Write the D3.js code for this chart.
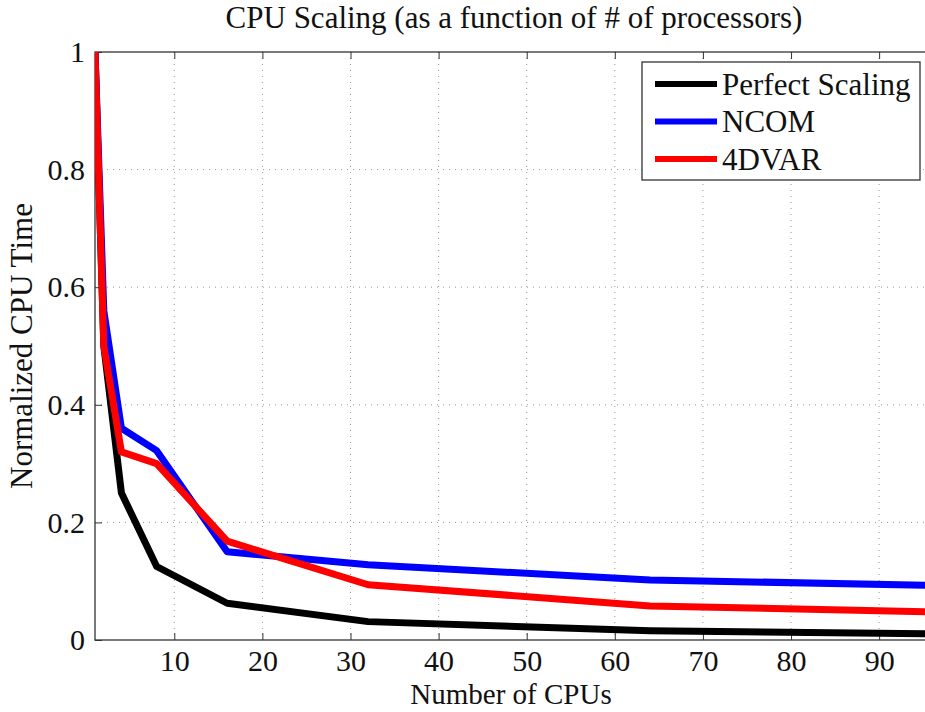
<!DOCTYPE html>
<html><head><meta charset="utf-8">
<script src="https://cdn.jsdelivr.net/npm/d3@7"></script>
<style>body{margin:0;background:#fff;overflow:hidden}svg{display:block}</style>
</head><body>
<script>
const cpus = [1, 2, 4, 8, 16, 32, 64, 96];
const perfect = [1, 0.5, 0.25, 0.125, 0.0625, 0.03125, 0.015625, 0.0104];
const ncom = [1, 0.56, 0.36, 0.322, 0.15, 0.128, 0.102, 0.093];
const fourdvar = [1, 0.50, 0.32, 0.30, 0.168, 0.094, 0.058, 0.048];
const seriesNames = ["Perfect Scaling", "NCOM", "4DVAR"];
const seriesColors = ["#000000", "#0000ff", "#ff0000"];
const xTicks = [10, 20, 30, 40, 50, 60, 70, 80, 90];
const yTicks = [0, 0.2, 0.4, 0.6, 0.8, 1];
const yTickLabels = ["0", "0.2", "0.4", "0.6", "0.8", "1"];

const W = 925, H = 712;
const m = {left: 95, top: 52, right: 932, bottom: 640};
const svg = d3.select("body").append("svg").attr("width", W).attr("height", H);
const font = "'Liberation Serif', 'Times New Roman', serif";

const x = d3.scaleLinear().domain([1, 96]).range([m.left, m.right]);
const y = d3.scaleLinear().domain([0, 1]).range([m.bottom, m.top]);

const defs = svg.append("defs");
defs.append("clipPath").attr("id", "clip").append("rect")
  .attr("x", m.left).attr("y", m.top - 5).attr("width", m.right - m.left).attr("height", m.bottom - m.top + 10);

// grid
const g = svg.append("g");
g.selectAll(".gx").data(xTicks).join("line")
  .attr("x1", d => x(d)).attr("x2", d => x(d)).attr("y1", m.top).attr("y2", m.bottom)
  .attr("stroke", "#999").attr("stroke-width", 1).attr("stroke-dasharray", "1,5");
g.selectAll(".gy").data(yTicks.slice(1, -1)).join("line")
  .attr("x1", m.left).attr("x2", m.right).attr("y1", d => y(d)).attr("y2", d => y(d))
  .attr("stroke", "#999").attr("stroke-width", 1).attr("stroke-dasharray", "1,5");

// axes (ticks inside)
const xAxisB = d3.axisBottom(x).tickValues(xTicks).tickSize(-7).tickPadding(16).tickFormat(d3.format("d"));
const xAxisT = d3.axisTop(x).tickValues(xTicks).tickSize(-7).tickFormat("");
const yAxisL = d3.axisLeft(y).tickValues(yTicks).tickSize(-7).tickPadding(17).tickFormat((d, i) => yTickLabels[i]);
const yAxisR = d3.axisRight(y).tickValues(yTicks).tickSize(-7).tickFormat("");

function styleAxis(sel) {
  sel.select(".domain").remove();
  sel.selectAll(".tick line").attr("stroke", "#333").attr("stroke-width", 1);
  sel.selectAll("text").attr("font-family", font).attr("font-size", 30).attr("fill", "#111");
}
svg.append("g").attr("transform", `translate(0,${m.bottom})`).call(xAxisB).call(styleAxis)
  .selectAll("text").attr("dy", "0.5em");
svg.append("g").attr("transform", `translate(0,${m.top})`).call(xAxisT).call(styleAxis);
svg.append("g").attr("transform", `translate(${m.left},0)`).call(yAxisL).call(styleAxis)
  .selectAll("text").attr("dy", "0.32em").attr("x", -10);
svg.append("g").attr("transform", `translate(${m.right},0)`).call(yAxisR).call(styleAxis);

// box
svg.append("rect").attr("x", m.left).attr("y", m.top).attr("width", m.right - m.left).attr("height", m.bottom - m.top)
  .attr("fill", "none").attr("stroke", "#333").attr("stroke-width", 1.3);

// lines
const data = [perfect, ncom, fourdvar];
const line = d3.line().x((d, i) => x(cpus[i])).y(d => y(d));
svg.append("g").attr("clip-path", "url(#clip)").selectAll("path").data(data).join("path")
  .attr("d", d => line(d)).attr("fill", "none")
  .attr("stroke", (d, i) => seriesColors[i]).attr("stroke-width", 7)
  .attr("stroke-linejoin", "round").attr("stroke-linecap", "butt");

// legend
const lg = svg.append("g");
lg.append("rect").attr("x", 642).attr("y", 62).attr("width", 278).attr("height", 118)
  .attr("fill", "#fff").attr("stroke", "#333").attr("stroke-width", 1.3);
seriesNames.forEach((n, i) => {
  const yy = 84 + i * 37.5;
  lg.append("line").attr("x1", 655).attr("x2", 717).attr("y1", yy).attr("y2", yy)
    .attr("stroke", seriesColors[i]).attr("stroke-width", 6);
  lg.append("text").attr("x", 722).attr("y", yy).attr("dy", "0.35em")
    .attr("font-family", font).attr("font-size", 31).attr("fill", "#111").text(n);
});

// titles
svg.append("text").attr("x", 514).attr("y", 28).attr("text-anchor", "middle")
  .attr("font-family", font).attr("font-size", 31).attr("fill", "#111")
  .text("CPU Scaling (as a function of # of processors)");
svg.append("text").attr("x", 511).attr("y", 704).attr("text-anchor", "middle")
  .attr("font-family", font).attr("font-size", 29).attr("fill", "#111").text("Number of CPUs");
svg.append("text").attr("transform", `translate(32,${(m.top + m.bottom) / 2}) rotate(-90)`).attr("text-anchor", "middle")
  .attr("font-family", font).attr("font-size", 31).attr("fill", "#111").text("Normalized CPU Time");
</script>
</body></html>
